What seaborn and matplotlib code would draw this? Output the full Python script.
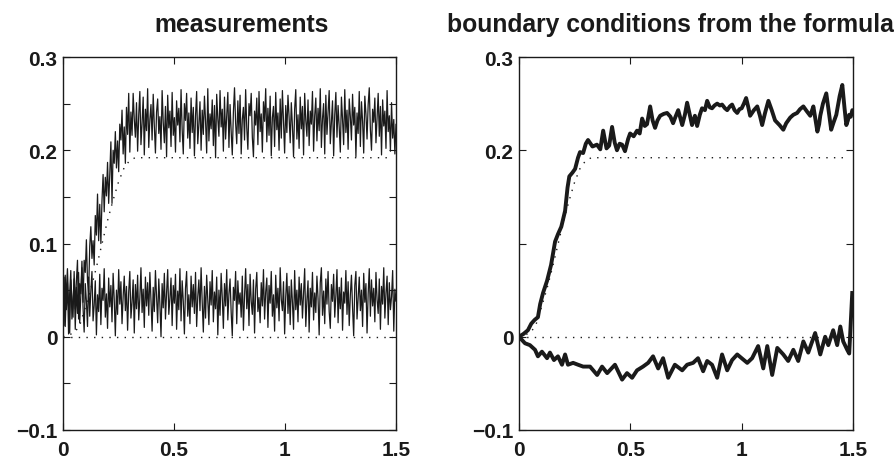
import numpy as np
import pandas as pd
import matplotlib
matplotlib.use("Agg")
import matplotlib.pyplot as plt
import seaborn as sns

# sampling of the measured signals
n_samples = 300
t_end = 1.5

# lower measured signal (true value 0 plus noise)
meas_low = [
    0.041, 0.012, 0.066, 0.029, 0.058, 0.003, 0.047, 0.071, 0.019, 0.036, 0.062, 0.008, 0.053, 0.025, 0.069, 0.015, 0.044, 0.074, 0.031, 0.005,
    0.057, 0.038, 0.011, 0.064, 0.022, 0.049, 0.070, 0.017, 0.034, 0.060, 0.002, 0.045, 0.027, 0.067, 0.013, 0.052, 0.039, 0.073, 0.021, 0.046,
    0.009, 0.063, 0.032, 0.055, 0.016, 0.068, 0.040, 0.001, 0.050, 0.024, 0.072, 0.035, 0.059, 0.014, 0.043, 0.065, 0.028, 0.054, 0.007, 0.048,
    0.070, 0.020, 0.037, 0.061, 0.004, 0.056, 0.030, 0.066, 0.018, 0.042, 0.074, 0.026, 0.051, 0.010, 0.064, 0.033, 0.058, 0.023, 0.069, 0.039,
    0.006, 0.053, 0.027, 0.071, 0.044, 0.015, 0.062, 0.035, 0.000, 0.057, 0.031, 0.068, 0.019, 0.047, 0.072, 0.024, 0.041, 0.063, 0.012, 0.055,
    0.036, 0.067, 0.008, 0.049, 0.029, 0.073, 0.017, 0.060, 0.038, 0.003, 0.052, 0.070, 0.022, 0.045, 0.014, 0.065, 0.032, 0.056, 0.025, 0.069,
    0.011, 0.043, 0.061, 0.028, 0.074, 0.037, 0.005, 0.054, 0.020, 0.066, 0.040, 0.013, 0.059, 0.034, 0.071, 0.016, 0.048, 0.030, 0.064, 0.002,
    0.050, 0.023, 0.068, 0.042, 0.009, 0.057, 0.033, 0.072, 0.018, 0.046, 0.062, 0.026, 0.001, 0.053, 0.039, 0.070, 0.014, 0.060, 0.035, 0.047,
    0.021, 0.065, 0.007, 0.044, 0.073, 0.030, 0.056, 0.012, 0.067, 0.038, 0.024, 0.061, 0.004, 0.051, 0.069, 0.027, 0.042, 0.015, 0.058, 0.033,
    0.072, 0.019, 0.048, 0.063, 0.010, 0.055, 0.036, 0.070, 0.022, 0.045, 0.006, 0.066, 0.031, 0.052, 0.017, 0.074, 0.040, 0.028, 0.059, 0.003,
    0.043, 0.068, 0.025, 0.054, 0.013, 0.061, 0.037, 0.008, 0.071, 0.029, 0.050, 0.016, 0.064, 0.034, 0.057, 0.020, 0.046, 0.073, 0.011, 0.039,
    0.060, 0.005, 0.052, 0.032, 0.069, 0.018, 0.047, 0.026, 0.065, 0.041, 0.002, 0.058, 0.074, 0.023, 0.049, 0.014, 0.062, 0.035, 0.070, 0.027,
    0.009, 0.056, 0.038, 0.067, 0.021, 0.044, 0.072, 0.015, 0.053, 0.030, 0.063, 0.007, 0.048, 0.036, 0.071, 0.024, 0.059, 0.012, 0.045, 0.066,
    0.031, 0.001, 0.055, 0.070, 0.019, 0.042, 0.064, 0.028, 0.050, 0.011, 0.068, 0.037, 0.057, 0.004, 0.046, 0.073, 0.022, 0.061, 0.033, 0.052,
    0.016, 0.069, 0.040, 0.025, 0.062, 0.008, 0.054, 0.035, 0.074, 0.020, 0.047, 0.065, 0.013, 0.058, 0.029, 0.043, 0.071, 0.006, 0.051, 0.038,
]

# upper measured signal (ramp to ~0.19 plus noise)
meas_high = [
    0.027, 0.064, 0.011, 0.050, 0.073, 0.035, 0.004, 0.061, 0.043, 0.021, 0.070, 0.030, 0.059, 0.082, 0.019, 0.057, 0.046, 0.081, 0.037, 0.082,
    0.069, 0.104, 0.060, 0.047, 0.097, 0.118, 0.084, 0.103, 0.077, 0.130, 0.109, 0.153, 0.103, 0.142, 0.100, 0.146, 0.174, 0.134, 0.171, 0.151,
    0.187, 0.143, 0.174, 0.209, 0.143, 0.200, 0.186, 0.220, 0.181, 0.210, 0.177, 0.228, 0.211, 0.243, 0.196, 0.225, 0.186, 0.246, 0.217, 0.261,
    0.198, 0.241, 0.216, 0.261, 0.233,
    0.214, 0.251, 0.199, 0.238, 0.263, 0.206, 0.229, 0.257, 0.195, 0.244, 0.221, 0.266, 0.203, 0.233, 0.249, 0.211, 0.260, 0.226, 0.197, 0.241,
    0.255, 0.218, 0.236, 0.201, 0.264, 0.230, 0.208, 0.247, 0.193, 0.259, 0.224, 0.242, 0.204, 0.262, 0.216, 0.235, 0.198, 0.253, 0.227, 0.245,
    0.209, 0.265, 0.222, 0.196, 0.250, 0.232, 0.261, 0.213, 0.240, 0.202, 0.256, 0.219, 0.246, 0.194, 0.237, 0.263, 0.207, 0.228, 0.252, 0.200,
    0.243, 0.217, 0.258, 0.231, 0.197, 0.266, 0.210, 0.239, 0.223, 0.254, 0.205, 0.248, 0.192, 0.260, 0.234, 0.215, 0.264, 0.225, 0.244, 0.199,
    0.257, 0.212, 0.236, 0.262, 0.203, 0.249, 0.220, 0.195, 0.241, 0.267, 0.229, 0.207, 0.253, 0.218, 0.259, 0.196, 0.233, 0.246, 0.211, 0.265,
    0.224, 0.201, 0.250, 0.237, 0.261, 0.214, 0.193, 0.242, 0.227, 0.256, 0.206, 0.263, 0.220, 0.239, 0.198, 0.252, 0.231, 0.266, 0.209, 0.245,
    0.216, 0.258, 0.194, 0.235, 0.247, 0.204, 0.262, 0.222, 0.240, 0.200, 0.255, 0.213, 0.264, 0.230, 0.197, 0.248, 0.219, 0.259, 0.236, 0.208,
    0.251, 0.226, 0.193, 0.244, 0.265, 0.212, 0.238, 0.202, 0.257, 0.223, 0.247, 0.195, 0.261, 0.232, 0.215, 0.254, 0.205, 0.242, 0.228, 0.263,
    0.199, 0.237, 0.256, 0.210, 0.245, 0.221, 0.266, 0.203, 0.234, 0.250, 0.196, 0.259, 0.217, 0.241, 0.264, 0.207, 0.229, 0.253, 0.194, 0.238,
    0.262, 0.214, 0.248, 0.225, 0.198, 0.257, 0.233, 0.206, 0.265, 0.219, 0.243, 0.201, 0.255, 0.236, 0.211, 0.260, 0.227, 0.246, 0.193, 0.240,
    0.218, 0.263, 0.204, 0.252, 0.231, 0.197, 0.258, 0.239, 0.212, 0.249, 0.267, 0.222, 0.200, 0.244, 0.230, 0.256, 0.208, 0.235, 0.261, 0.215,
    0.247, 0.195, 0.254, 0.226, 0.242, 0.202, 0.264, 0.220, 0.237, 0.199, 0.251, 0.213, 0.233, 0.196, 0.228,
]

# true boundary values (dotted reference lines)
ref_x = [0.0, 0.05, 0.075, 0.1, 0.125, 0.15, 0.175, 0.2, 0.225, 0.25, 0.275, 0.3, 0.325, 1.48]
ref_y = [0.0, 0.004, 0.012, 0.031, 0.051, 0.074, 0.099, 0.124, 0.146, 0.166, 0.181, 0.189, 0.192, 0.192]
zero_x = [0.0, 1.48]
zero_y = [0.0, 0.0]

# boundary conditions recovered from the formula
bc_high_x = [
    0.0, 0.02, 0.04, 0.055, 0.07, 0.085, 0.095, 0.108, 0.126, 0.144, 0.162, 0.175, 0.19, 0.207, 0.218,
    0.226, 0.24, 0.252, 0.265, 0.274, 0.288, 0.30, 0.31, 0.33, 0.35, 0.365, 0.378, 0.393, 0.405, 0.418,
    0.43, 0.44, 0.452, 0.463, 0.476, 0.49, 0.499, 0.515, 0.53, 0.542, 0.553, 0.565, 0.575, 0.589, 0.60,
    0.611, 0.622, 0.634, 0.65, 0.665, 0.68, 0.692, 0.703, 0.715, 0.733, 0.745, 0.755, 0.767, 0.777, 0.79,
    0.80, 0.812, 0.822, 0.835, 0.845, 0.857, 0.867, 0.878, 0.89, 0.902, 0.912, 0.925, 0.935, 0.947, 0.957,
    0.968, 0.98, 0.99, 1.0, 1.01, 1.02, 1.03, 1.038, 1.055, 1.07, 1.082, 1.092, 1.105, 1.12, 1.135,
    1.15, 1.17, 1.187, 1.2, 1.218, 1.232, 1.249, 1.262, 1.277, 1.292, 1.308, 1.315, 1.322, 1.33, 1.34,
    1.348, 1.353, 1.365, 1.38, 1.392, 1.402, 1.413, 1.425, 1.44, 1.452, 1.462, 1.47, 1.477, 1.483, 1.49, 1.497,
]
bc_high_y = [
    0.0, 0.003, 0.007, 0.014, 0.018, 0.021, 0.035, 0.047, 0.060, 0.077, 0.102, 0.110, 0.118, 0.135, 0.160,
    0.172, 0.176, 0.180, 0.192, 0.198, 0.197, 0.207, 0.211, 0.204, 0.206, 0.201, 0.221, 0.202, 0.205, 0.225,
    0.208, 0.200, 0.207, 0.206, 0.199, 0.212, 0.218, 0.215, 0.221, 0.218, 0.234, 0.226, 0.228, 0.247, 0.232,
    0.224, 0.232, 0.237, 0.239, 0.240, 0.236, 0.229, 0.236, 0.243, 0.227, 0.238, 0.251, 0.238, 0.227, 0.237,
    0.226, 0.238, 0.245, 0.243, 0.253, 0.246, 0.245, 0.248, 0.250, 0.248, 0.249, 0.245, 0.243, 0.247, 0.249,
    0.243, 0.240, 0.244, 0.245, 0.250, 0.256, 0.246, 0.237, 0.243, 0.247, 0.237, 0.227, 0.240, 0.253, 0.243,
    0.232, 0.227, 0.222, 0.229, 0.235, 0.238, 0.240, 0.244, 0.247, 0.242, 0.237, 0.242, 0.247, 0.235, 0.220,
    0.228, 0.237, 0.250, 0.261, 0.240, 0.222, 0.230, 0.238, 0.258, 0.270, 0.245, 0.227, 0.232, 0.238, 0.236, 0.243,
]

bc_low_x = [
    0.0, 0.027, 0.049, 0.072, 0.085, 0.103, 0.126, 0.139, 0.157, 0.175, 0.193, 0.207, 0.22, 0.243, 0.265,
    0.288, 0.319, 0.351, 0.373, 0.396, 0.431, 0.463, 0.485, 0.508, 0.53, 0.557, 0.58, 0.602, 0.625, 0.647,
    0.67, 0.70, 0.733, 0.755, 0.782, 0.804, 0.827, 0.845, 0.867, 0.89, 0.912, 0.935, 0.957, 0.98, 1.0,
    1.025, 1.047, 1.074, 1.097, 1.115, 1.137, 1.16, 1.187, 1.209, 1.232, 1.254, 1.277, 1.299, 1.33, 1.353,
    1.375, 1.389, 1.411, 1.429, 1.443, 1.456, 1.474, 1.483, 1.497,
]
bc_low_y = [
    0.0, -0.007, -0.009, -0.014, -0.021, -0.016, -0.023, -0.017, -0.025, -0.021, -0.030, -0.019, -0.030, -0.028, -0.030,
    -0.032, -0.032, -0.041, -0.032, -0.039, -0.030, -0.046, -0.039, -0.044, -0.036, -0.032, -0.028, -0.021, -0.034, -0.023,
    -0.044, -0.030, -0.036, -0.030, -0.028, -0.023, -0.037, -0.026, -0.030, -0.044, -0.019, -0.036, -0.025, -0.019, -0.023,
    -0.028, -0.023, -0.010, -0.034, -0.010, -0.041, -0.012, -0.019, -0.026, -0.014, -0.026, -0.005, -0.017, 0.004, -0.019,
    0.0, -0.009, 0.007, -0.009, 0.011, -0.005, -0.014, -0.018, 0.049,
]

x_ticks = [0, 0.5, 1, 1.5]
x_labels = ["0", "0.5", "1", "1.5"]
left_yticks = [-0.1, -0.05, 0, 0.05, 0.1, 0.15, 0.2, 0.25, 0.3]
left_ylabels = ["\u22120.1", "", "0", "", "0.1", "", "0.2", "", "0.3"]
right_yticks = [-0.1, 0, 0.1, 0.2, 0.3]
right_ylabels = ["\u22120.1", "0", "", "0.2", "0.3"]

sns.set_theme(style="white")
plt.rcParams["font.family"] = ["Liberation Sans", "DejaVu Sans"]
plt.rcParams["font.weight"] = "bold"
plt.rcParams["text.color"] = "black"

t = np.linspace(0, t_end, n_samples)
meas = pd.DataFrame({"t": t, "low": meas_low, "high": meas_high})

fig = plt.figure(figsize=(8.94, 4.6), dpi=100)
ax1 = fig.add_axes([63 / 894, 29 / 460, 333 / 894, 373 / 460])
ax2 = fig.add_axes([519 / 894, 29 / 460, 334 / 894, 373 / 460])

dot = (0, (1, 4.5))

# left: measurements
sns.lineplot(x=zero_x, y=zero_y, ax=ax1, color="k", lw=1.0, linestyle=dot)
sns.lineplot(x=ref_x, y=ref_y, ax=ax1, color="k", lw=1.0, linestyle=dot)
sns.lineplot(data=meas, x="t", y="low", ax=ax1, color="k", lw=0.9)
sns.lineplot(data=meas, x="t", y="high", ax=ax1, color="k", lw=0.9)

# right: recovered boundary conditions
sns.lineplot(x=zero_x, y=zero_y, ax=ax2, color="k", lw=1.0, linestyle=dot)
sns.lineplot(x=ref_x, y=ref_y, ax=ax2, color="k", lw=1.0, linestyle=dot)
sns.lineplot(x=bc_high_x, y=bc_high_y, ax=ax2, color="k", lw=2.8, sort=False,
             solid_joinstyle="round", solid_capstyle="round")
sns.lineplot(x=bc_low_x, y=bc_low_y, ax=ax2, color="k", lw=2.8, sort=False,
             solid_joinstyle="round", solid_capstyle="butt")

for ax, yt, yl in [(ax1, left_yticks, left_ylabels), (ax2, right_yticks, right_ylabels)]:
    ax.set_xlim(0, 1.5)
    ax.set_ylim(-0.1, 0.3)
    ax.set_xticks(x_ticks)
    ax.set_xticklabels(x_labels)
    ax.set_yticks(yt)
    ax.set_yticklabels(yl)
    ax.set_xlabel("")
    ax.set_ylabel("")
    ax.tick_params(direction="in", bottom=True, left=True, top=True, right=True,
                   length=5, width=0.8, color="k", labelsize=15, labelcolor="k")
    ax.tick_params(axis="x", pad=7)
    ax.tick_params(axis="y", pad=4)
    for s in ax.spines.values():
        s.set_color("k")
        s.set_linewidth(1.0)
    ax.set_facecolor("white")

ax1.set_title("measurements", fontsize=17.8, fontweight="bold", color="k", x=0.535, pad=19)
ax2.set_title("boundary conditions from the formula", fontsize=17.8, fontweight="bold",
              color="k", x=0.452, pad=19)

fig.savefig("out.png", dpi=100)
